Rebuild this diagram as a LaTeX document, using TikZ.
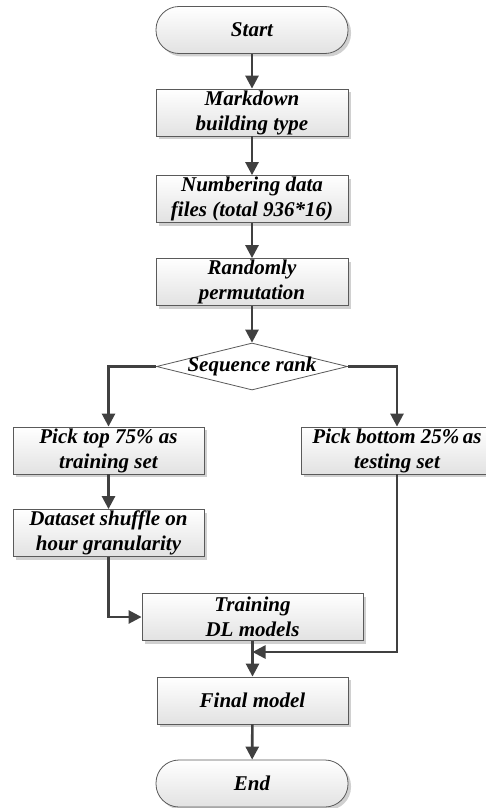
\documentclass[tikz,border=0pt]{standalone}
\usepackage{fontspec}
\setmainfont{Liberation Serif}
\usetikzlibrary{arrows.meta,shapes.geometric,shadows}
\definecolor{edgegray}{HTML}{5A5A5A}
\definecolor{arrowgray}{HTML}{404040}
\definecolor{boxbottom}{HTML}{E2E2E2}
\definecolor{shadowgray}{HTML}{D0D0D0}
\tikzset{
  labeltext/.style={font=\fontsize{21}{25}\selectfont\bfseries\itshape, align=center},
  procbox/.style={labeltext, draw=edgegray, line width=0.8pt, rectangle,
    top color=white, bottom color=boxbottom, minimum height=47pt, inner sep=0pt,
    drop shadow={shadow xshift=3pt, shadow yshift=-3pt, fill=shadowgray, opacity=1}},
  terminal/.style={procbox, rounded corners=23pt},
  decision/.style={labeltext, draw=edgegray, line width=0.8pt, diamond, fill=white,
    minimum width=191pt, minimum height=47pt, inner sep=0pt},
  flow/.style={draw=arrowgray, line width=2.6pt,
    -{Triangle[width=13pt,length=13pt]}},
}
\begin{document}
\begin{tikzpicture}[x=1pt,y=-1pt]
\useasboundingbox (0,0) rectangle (486,808);
\node[terminal, minimum width=192pt] (start) at (252,30) {Start};
\node[procbox, minimum width=192pt] (md) at (252,112.5) {Markdown\\building type};
\node[procbox, minimum width=192pt] (num) at (252,199) {Numbering data\\files (total 936*16)};
\node[procbox, minimum width=192pt] (rnd) at (252,282) {Randomly\\permutation};
\node[decision] (seq) at (252,366.5) {\makebox[0pt]{Sequence rank}};
\node[procbox, minimum width=191pt] (top) at (108.5,450.5) {Pick top 75\% as\\training set};
\node[procbox, minimum width=192pt] (bot) at (397,450.5) {Pick bottom 25\%\,as\\testing set};
\node[procbox, minimum width=191pt] (shuf) at (108.5,533) {Dataset shuffle on\\hour granularity};
\node[procbox, minimum width=221pt] (train) at (252.5,617) {Training\\DL models};
\node[procbox, minimum width=191pt] (final) at (252.5,700.5) {Final model};
\node[terminal, minimum width=192pt] (end) at (252,783.5) {End};
\coordinate (join) at (252.5,652);

\draw[flow] (start) -- (md);
\draw[flow] (md) -- (num);
\draw[flow] (num) -- (rnd);
\draw[flow] (rnd) -- (seq);
\draw[flow] (seq.west) -| (top.north);
\draw[flow] (seq.east) -| (bot.north);
\draw[flow] (top) -- (shuf);
\draw[flow] (shuf.south) |- (train.west);
\draw[flow] (bot.south) |- (join);
\draw[flow] (train) -- (final);
\draw[flow] (final) -- (end);
\end{tikzpicture}
\end{document}
